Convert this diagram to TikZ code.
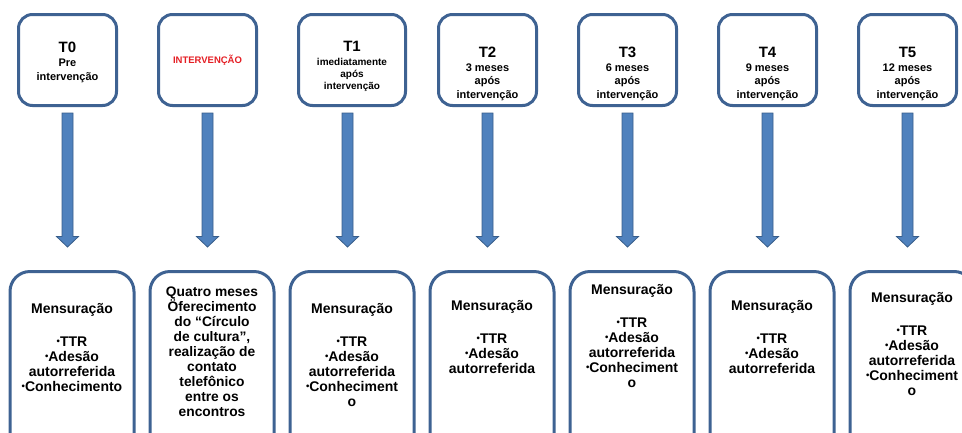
\documentclass[tikz,border=0pt]{standalone}
\usepackage{fontspec}
\setmainfont{Liberation Sans}
\usetikzlibrary{positioning,calc}

\definecolor{boxblue}{RGB}{62,98,146}
\definecolor{arrowfill}{RGB}{79,129,189}
\definecolor{arrowline}{RGB}{56,93,138}
\definecolor{intred}{RGB}{228,30,36}

\tikzset{
  topbox/.style={draw=boxblue, line width=3pt, rounded corners=14pt, minimum width=98pt, minimum height=91pt},
  botbox/.style={draw=boxblue, line width=3pt, rounded corners=20pt, minimum width=124pt, minimum height=200pt, anchor=north},
  ttitle/.style={font=\fontsize{15}{15}\selectfont\bfseries, inner sep=0pt, anchor=north},
  tsub/.style={font=\fontsize{11}{13.5}\selectfont\bfseries, align=center, inner sep=0pt},
  mtext/.style={font=\fontsize{14}{15}\selectfont\bfseries, align=center, inner sep=0pt, anchor=north},
  blockarrow/.style={fill=arrowfill, draw=arrowline, line width=0.8pt},
}

% small bullet as in the slide
\newcommand{\bul}{\raisebox{2pt}{\fontsize{9.5}{9.5}\selectfont•}}

% block arrow from a top box down to its bottom box
\newcommand{\bigarrow}[3]{%
  \coordinate (s) at ($(#1.south)+(#3,6)$);
  \coordinate (e) at ($(s |- #2.north)+(0,-23)$);
  \filldraw[blockarrow] ($(s)+(-5.5,0)$) -- ($(s)+(5.5,0)$) -- ($(e)+(5.5,-10.5)$) -- ($(e)+(11,-10.5)$)
    -- (e) -- ($(e)+(-11,-10.5)$) -- ($(e)+(-5.5,-10.5)$) -- cycle;
}

\begin{document}
\begin{tikzpicture}[x=1pt,y=-1pt]
\clip (0,0) rectangle (962,432);

% top row
\node[topbox] (t0) at (67.5,60) {};
\node[ttitle] (t0title) at (67.5,42) {T0};
\node[tsub, below=6pt of t0title] (t0sub) {Pre\\intervenção};

\node[topbox, font=\fontsize{9.5}{11}\selectfont\bfseries, text=intred] (int) at (207.5,60) {INTERVENÇÃO};

\node[topbox, minimum width=107pt] (t1) at (352,60) {};
\node[ttitle] (t1title) at (352,41) {T1};
\node[tsub, font=\fontsize{10}{12}\selectfont\bfseries, below=6pt of t1title] (t1sub) {imediatamente\\após\\intervenção};

\node[topbox] (t2) at (487.5,60) {};
\node[ttitle] (t2title) at (487.5,46.5) {T2};
\node[tsub, below=6pt of t2title] (t2sub) {3 meses\\após\\intervenção};

\node[topbox] (t3) at (627.5,60) {};
\node[ttitle] (t3title) at (627.5,46.5) {T3};
\node[tsub, below=6pt of t3title] (t3sub) {6 meses\\após\\intervenção};

\node[topbox] (t4) at (767.5,60) {};
\node[ttitle] (t4title) at (767.5,46.5) {T4};
\node[tsub, below=6pt of t4title] (t4sub) {9 meses\\após\\intervenção};

\node[topbox] (t5) at (907.5,60) {};
\node[ttitle] (t5title) at (907.5,46.5) {T5};
\node[tsub, below=6pt of t5title] (t5sub) {12 meses\\após\\intervenção};

% bottom row
\node[botbox] (m0) at (72,270) {};
\node[mtext] (m0text) at (72,303) {Mensuração\\[18pt]\bul TTR\\\bul Adesão\\autorreferida\\\bul Conhecimento};

\node[botbox] (mint) at (212,270) {};
\node[mtext, font=\fontsize{13.8}{15}\selectfont\bfseries] (minttext) at (212,287)
  {Quatro meses\\Öferecimento\\do “Círculo\\de cultura”,\\realização de\\contato\\telefônico\\entre os\\encontros};

\node[botbox] (m1) at (352,270) {};
\node[mtext] (m1text) at (352,303) {Mensuração\\[18pt]\bul TTR\\\bul Adesão\\autorreferida\\\bul Conheciment\\o};

\node[botbox] (m2) at (492,270) {};
\node[mtext] (m2text) at (492,300) {Mensuração\\[18pt]\bul TTR\\\bul Adesão\\autorreferida};

\node[botbox] (m3) at (632,270) {};
\node[mtext] (m3text) at (632,284) {Mensuração\\[18pt]\bul TTR\\\bul Adesão\\autorreferida\\\bul Conheciment\\o};

\node[botbox] (m4) at (772,270) {};
\node[mtext] (m4text) at (772,300) {Mensuração\\[18pt]\bul TTR\\\bul Adesão\\autorreferida};

\node[botbox] (m5) at (912,270) {};
\node[mtext] (m5text) at (912,292) {Mensuração\\[18pt]\bul TTR\\\bul Adesão\\autorreferida\\\bul Conheciment\\o};

% arrows
\bigarrow{t0}{m0}{0}
\bigarrow{int}{mint}{0}
\bigarrow{t1}{m1}{-4.5}
\bigarrow{t2}{m2}{0}
\bigarrow{t3}{m3}{0}
\bigarrow{t4}{m4}{0}
\bigarrow{t5}{m5}{0}

\end{tikzpicture}
\end{document}
